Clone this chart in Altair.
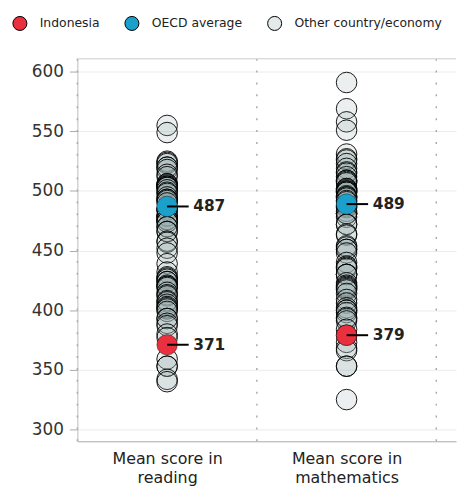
import altair as alt
import pandas as pd

subjects = ["Mean score in\nreading", "Mean score in\nmathematics"]
groups = ["Indonesia", "OECD average", "Other country/economy"]
group_colors = ["#E8303F", "#1BA0CB", "#E4E9E9"]

reading_other = [555, 549, 525, 524, 523, 520, 520, 518, 514, 512, 506, 506, 505, 504, 504,
                 503, 503, 501, 499, 498, 495, 493, 493, 492, 490, 485, 484, 484, 479, 479,
                 479, 476, 476, 476, 474, 474, 470, 470, 466, 466, 458, 457, 452, 448, 439,
                 432, 428, 427, 426, 424, 424, 421, 420, 420, 419, 415, 413, 412, 408, 407,
                 405, 403, 402, 401, 399, 393, 393, 389, 387, 380, 377, 359, 353, 353, 342, 340]
math_other = [591, 569, 558, 551, 531, 527, 526, 523, 519, 516, 515, 512, 509, 509, 508,
              507, 502, 502, 501, 500, 500, 499, 499, 496, 495, 495, 494, 492, 491, 488,
              487, 486, 483, 481, 481, 481, 478, 472, 472, 464, 463, 454, 453, 451, 451,
              448, 440, 437, 436, 435, 430, 430, 430, 423, 421, 420, 419, 418, 417, 414,
              409, 406, 402, 400, 400, 398, 394, 393, 391, 384, 379, 373, 368, 366, 353,
              353, 325]
indonesia = [371, 379]
oecd = [487, 489]
separators = [0, 1, 2]
y_ticks = [300, 350, 400, 450, 500, 550, 600]

rows = []
for i, vals in enumerate([reading_other, math_other]):
    for v in vals:
        rows.append({"pos": i + 0.5, "score": v, "group": groups[2]})
others = pd.DataFrame(rows)
hl_rows = []
for i in range(2):
    hl_rows.append({"pos": i + 0.5, "score": oecd[i], "group": groups[1]})
    hl_rows.append({"pos": i + 0.5, "score": indonesia[i], "group": groups[0]})
highlights = pd.DataFrame(hl_rows)
sep_df = pd.DataFrame({"sep": separators})

FONT = "DejaVu Sans"
xscale = alt.Scale(domain=[0, 2.11], nice=False, zero=False)
yscale = alt.Scale(domain=[290, 611], nice=False, zero=False)
label_expr = "datum.value < 1 ? ['Mean score in', 'reading'] : ['Mean score in', 'mathematics']"
fill_scale = alt.Scale(domain=groups, range=group_colors)

x_axis = alt.Axis(values=[0.5, 1.5], labelExpr=label_expr, title=None, grid=False,
                  ticks=False, labelFontSize=16, labelFont=FONT, labelColor="#222",
                  labelPadding=9, labelLineHeight=20, domainColor="#aaa")
y_axis = alt.Axis(values=y_ticks, title=None, grid=True, gridColor="#ececec",
                  tickColor="#aaa", tickSize=8, labelFontSize=17, labelFont=FONT,
                  labelColor="#333", labelPadding=6, domainColor="#bbb")

seps = alt.Chart(sep_df).mark_rule(color="#aaa", strokeDash=[2, 10], strokeWidth=1.5).encode(
    x=alt.X("sep:Q", scale=xscale, axis=x_axis),
)
top = alt.Chart(sep_df).mark_rule(color="#ddd").encode(
    x=alt.value(0), x2=alt.value(382), y=alt.value(0)
)

base_y = alt.Y("score:Q", scale=yscale, axis=y_axis)
legend = alt.Legend(title=None, orient="none", legendX=-66, legendY=-44, direction="horizontal",
                    columns=3, symbolType="circle", symbolSize=200, symbolStrokeColor="black",
                    symbolStrokeWidth=1, labelFont=FONT, labelFontSize=12.5, labelColor="#222",
                    columnPadding=22, labelOffset=12, symbolOpacity=1)

pts_other = alt.Chart(others).mark_point(filled=True, shape="circle", size=430, stroke="black",
                                         strokeWidth=0.9, fillOpacity=0.2,
                                         strokeOpacity=1).encode(
    x=alt.X("pos:Q", scale=xscale),
    y=base_y,
    fill=alt.value("#9AAEB0"),
)
conn = alt.Chart(highlights).transform_calculate(end="datum.pos + 0.12").mark_rule(
    color="black", strokeWidth=2).encode(
    x=alt.X("pos:Q", scale=xscale), x2="end:Q", y="score:Q"
)
pts_hl = alt.Chart(highlights).mark_point(filled=True, shape="circle", size=430, stroke="black",
                                          strokeWidth=0.4, fillOpacity=1).encode(
    x=alt.X("pos:Q", scale=xscale),
    y=base_y,
    fill=alt.Fill("group:N", scale=fill_scale, legend=legend),
)
labels = alt.Chart(highlights).transform_calculate(end="datum.pos + 0.14").mark_text(
    align="left", baseline="middle", fontSize=15.5, fontWeight="bold", font=FONT, color="#222", dx=1).encode(
    x=alt.X("end:Q", scale=xscale), y="score:Q", text="score:Q"
)

chart = alt.layer(seps, top, pts_other, pts_hl, conn, labels).properties(
    width=382, height=386,
    autosize=alt.AutoSizeParams(type="none"),
    padding={"left": 70, "top": 49, "right": 5, "bottom": 45},
).configure_view(stroke=None)

chart.save("out.html", embed_options={"renderer": "svg", "actions": False})
